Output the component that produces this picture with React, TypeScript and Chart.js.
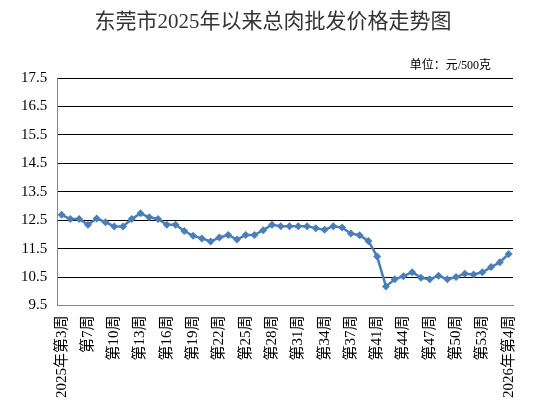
import React, { useEffect, useRef } from "react";
import { Chart, registerables } from "chart.js";

Chart.register(...registerables);

const TITLE = "东莞市2025年以来总肉批发价格走势图";
const UNIT = "单位：元/500克";

const weeks: string[] = [
  "2025年第3周", "第4周", "第6周", "第7周", "第8周", "第9周", "第10周", "第11周", "第12周", "第13周",
  "第14周", "第15周", "第16周", "第17周", "第18周", "第19周", "第20周", "第21周", "第22周", "第23周",
  "第24周", "第25周", "第26周", "第27周", "第28周", "第29周", "第30周", "第31周", "第32周", "第33周",
  "第34周", "第35周", "第36周", "第37周", "第38周", "第39周", "第41周", "第42周", "第43周", "第44周",
  "第45周", "第46周", "第47周", "第48周", "第49周", "第50周", "第51周", "第52周", "第53周", "第2周",
  "第3周", "2026年第4周",
];

const prices: number[] = [
  12.69, 12.54, 12.54, 12.34, 12.56, 12.43, 12.28, 12.28, 12.54, 12.74,
  12.6, 12.54, 12.34, 12.34, 12.12, 11.95, 11.86, 11.75, 11.89, 11.98,
  11.82, 11.98, 11.98, 12.15, 12.34, 12.29, 12.29, 12.29, 12.29, 12.22,
  12.16, 12.29, 12.24, 12.03, 11.97, 11.77, 11.22, 10.17, 10.42, 10.53,
  10.67, 10.48, 10.42, 10.55, 10.42, 10.5, 10.62, 10.59, 10.67, 10.85,
  11.02, 11.31,
];

const Y_MIN = 9.5;
const Y_MAX = 17.5;
const Y_STEP = 1;
const LABEL_EVERY = 3;

const SERIF = '"Liberation Serif", "Times New Roman", "Noto Sans CJK SC", serif';

const textPlugin = {
  id: "texts",
  afterDraw(chart: any) {
    const { ctx, chartArea } = chart;
    ctx.save();
    ctx.textBaseline = "middle";
    ctx.fillStyle = "#333";
    ctx.textAlign = "center";
    ctx.font = `21px ${SERIF}`;
    ctx.fillText(TITLE, chart.width / 2 - 2, 22);
    ctx.fillStyle = "#000";
    ctx.textAlign = "right";
    ctx.font = `12px ${SERIF}`;
    ctx.fillText(UNIT, chartArea.right - 22, chartArea.top - 12);
    ctx.restore();
  },
};

export default function App() {
  const ref = useRef<HTMLCanvasElement | null>(null);

  useEffect(() => {
    document.body.style.margin = "0";
    const chart = new Chart(ref.current as HTMLCanvasElement, {
      type: "line",
      data: {
        labels: weeks,
        datasets: [
          {
            data: prices,
            borderColor: "#4a7ebb",
            backgroundColor: "#4a7ebb",
            borderWidth: 2.5,
            pointStyle: "rectRot",
            pointRadius: 4,
            pointBorderWidth: 0,
            pointBackgroundColor: "#4a7ebb",
            tension: 0,
          },
        ],
      },
      options: {
        animation: false,
        responsive: false,
        layout: { padding: { left: 11, right: 37, top: 78, bottom: 20 } },
        plugins: {
          legend: { display: false },
          tooltip: { enabled: false },
          title: { display: false },
        },
        scales: {
          x: {
            offset: true,
            grid: { display: false },
            border: { display: true, color: "#868686", width: 1 },
            ticks: {
              autoSkip: false,
              maxRotation: 90,
              minRotation: 90,
              padding: 2,
              color: "#000",
              font: { family: SERIF, size: 15 },
              callback: (_v: any, i: number) => (i % LABEL_EVERY === 0 ? weeks[i] : ""),
            },
          },
          y: {
            min: Y_MIN,
            max: Y_MAX,
            grid: {
              drawTicks: false,
              color: (c: any) => (c.tick && c.tick.value === Y_MIN ? "rgba(0,0,0,0)" : "#000"),
              lineWidth: 1,
            },
            border: { display: true, color: "#868686", width: 1 },
            ticks: {
              stepSize: Y_STEP,
              padding: 10,
              color: "#000",
              font: { family: SERIF, size: 15 },
              callback: (v: any) => Number(v).toFixed(1),
            },
          },
        },
      },
      plugins: [textPlugin],
    } as any);
    return () => chart.destroy();
  }, []);

  return (
    <div style={{ width: 550, height: 420 }}>
      <canvas ref={ref} width={550} height={420} style={{ display: "block" }} />
    </div>
  );
}
